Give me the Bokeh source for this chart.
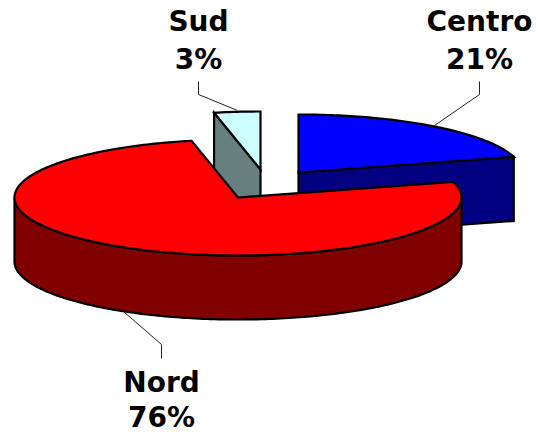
import numpy as np
from bokeh.core.properties import value
from bokeh.embed import file_html
from bokeh.models import Range1d
from bokeh.plotting import figure
from bokeh.resources import INLINE

categories = ["Sud", "Nord", "Centro"]
shares = [3.33, 76.0, 20.67]
labels = ["3%", "76%", "21%"]
top_colors = ["#CCFFFF", "#FF0000", "#0000FF"]
side_colors = ["#668080", "#800000", "#000080"]

# pie layout (page pixels)
CX, CY, RX, RY, DEPTH = 237.5, 197.0, 223.5, 58.0, 64.0
START = 90.0
explode = {"Sud": (22.5, -28.0), "Nord": (0.0, 0.0), "Centro": (60.5, -25.0)}
leaders = {
    "Sud": ([198, 198, 237], [81, 94, 110]),
    "Nord": ([123, 161, 161], [311, 344, 358]),
    "Centro": ([479, 479, 434], [81, 94, 125]),
}
label_pos = {"Sud": (198, 21, 59), "Nord": (161, 382, 417), "Centro": (479, 21, 59)}

p = figure(width=539, height=434, output_backend="svg", toolbar_location=None,
           x_range=Range1d(0, 539), y_range=Range1d(434, 0),
           min_border=0, outline_line_color=None, background_fill_color="white")
p.axis.visible = False
p.xaxis.visible = False
p.yaxis.visible = False
p.grid.visible = False
p.styles = {"position": "absolute", "top": "0px", "left": "0px"}


def ring(t0, t1, dx, dy, drop=0.0):
    t = np.radians(np.arange(t0, t1, 1.0).tolist() + [t1])
    return CX + dx + RX * np.cos(t), CY + dy - RY * np.sin(t) + drop


def outline(xs, ys, color):
    p.patch(xs, ys, fill_color=color, line_color="black", line_width=2.2, line_join="miter")


# angular span of every slice, counter-clockwise from START
spans = {}
a = START
for cat, share in zip(categories, shares):
    spans[cat] = (a, a + share * 3.6)
    a += share * 3.6

tops = dict(zip(categories, top_colors))
sides = dict(zip(categories, side_colors))

# Sud: cut face, then top
t0, t1 = spans["Sud"]
dx, dy = explode["Sud"]
ax, ay = CX + dx, CY + dy
ex, ey = ring(t1, t1, dx, dy)
outline([ex[0], ax, ax, ex[0]], [ey[0], ay, ay + DEPTH, ey[0] + DEPTH], sides["Sud"])
x, y = ring(t0, t1, dx, dy)
outline([ax, *x], [ay, *y], tops["Sud"])

# Centro: cut face, then top
t0, t1 = spans["Centro"]
dx, dy = explode["Centro"]
ax, ay = CX + dx, CY + dy
ex, ey = ring(t0, t0, dx, dy)
outline([ax, ex[0], ex[0], ax], [ay, ey[0], ey[0] + DEPTH, ay + DEPTH], sides["Centro"])
x, y = ring(t0, t1, dx, dy)
outline([ax, *x], [ay, *y], tops["Centro"])

# Nord: outer wall, then top
t0, t1 = spans["Nord"]
wx, wy = ring(180, 360, 0, 0)
bx, by = ring(180, 360, 0, 0, DEPTH)
outline([*wx, *bx[::-1]], [*wy, *by[::-1]], sides["Nord"])
x, y = ring(t0, t1, 0, 0)
outline([CX, *x], [CY, *y], tops["Nord"])

# leader lines and labels
for cat, lab in zip(categories, labels):
    lx, ly = leaders[cat]
    p.line(lx, ly, line_color="#222222", line_width=1)
    tx, y1, y2 = label_pos[cat]
    p.text([tx, tx], [y1, y2], text=[cat, lab], text_font=value("DejaVu Sans"),
           text_font_style="bold", text_font_size="28px", text_color="black",
           text_align="center", text_baseline="middle")

open("out.html", "w").write(file_html(p, INLINE))
